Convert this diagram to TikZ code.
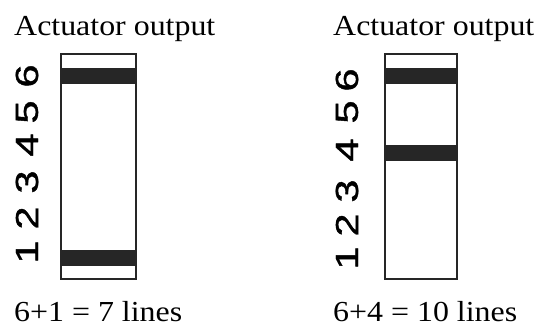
\documentclass[tikz,border=0pt]{standalone}
\usepackage{fontspec}
\setmainfont{Liberation Serif}
\newfontfamily\digitfont[FakeBold=1]{Liberation Sans}
\begin{document}
\begin{tikzpicture}[x=1pt,y=-1pt,
	title/.style={anchor=base west,inner sep=0pt,xscale=1.1,font=\fontsize{29}{29}\selectfont},
	digit/.style={rotate=90,xscale=1.3,inner sep=0pt,font=\digitfont\fontsize{32}{32}\selectfont},
	frame/.style={draw=black!85,line width=2pt},
	band/.style={fill=black!85}]
	\useasboundingbox (0,0) rectangle (541,327);
	% left: 6+1
	\node[title] (titleL) at (14,35) {Actuator output};
	\fill[band] (61,68) rectangle (136,84);
	\fill[band] (61,250) rectangle (136,266);
	\draw[frame] (61,54) rectangle (136,279);
	\foreach \d/\y in {1/252,2/218,3/182,4/145,5/112,6/76}
	    \node[digit] (dL\d) at (27,\y) {\d};
	\node[title] (sumL) at (14,321) {6+1 = 7 lines};
	% right: 6+4
	\node[title] (titleR) at (333,35) {Actuator output};
	\fill[band] (385,68) rectangle (457,84);
	\fill[band] (385,145) rectangle (457,161);
	\draw[frame] (385,54) rectangle (457,279);
	\foreach \d/\y in {1/258,2/225,3/191,4/150,5/112,6/80}
	    \node[digit] (dR\d) at (347,\y) {\d};
	\node[title] (sumR) at (333,321) {6+4 = 10 lines};
\end{tikzpicture}
\end{document}
